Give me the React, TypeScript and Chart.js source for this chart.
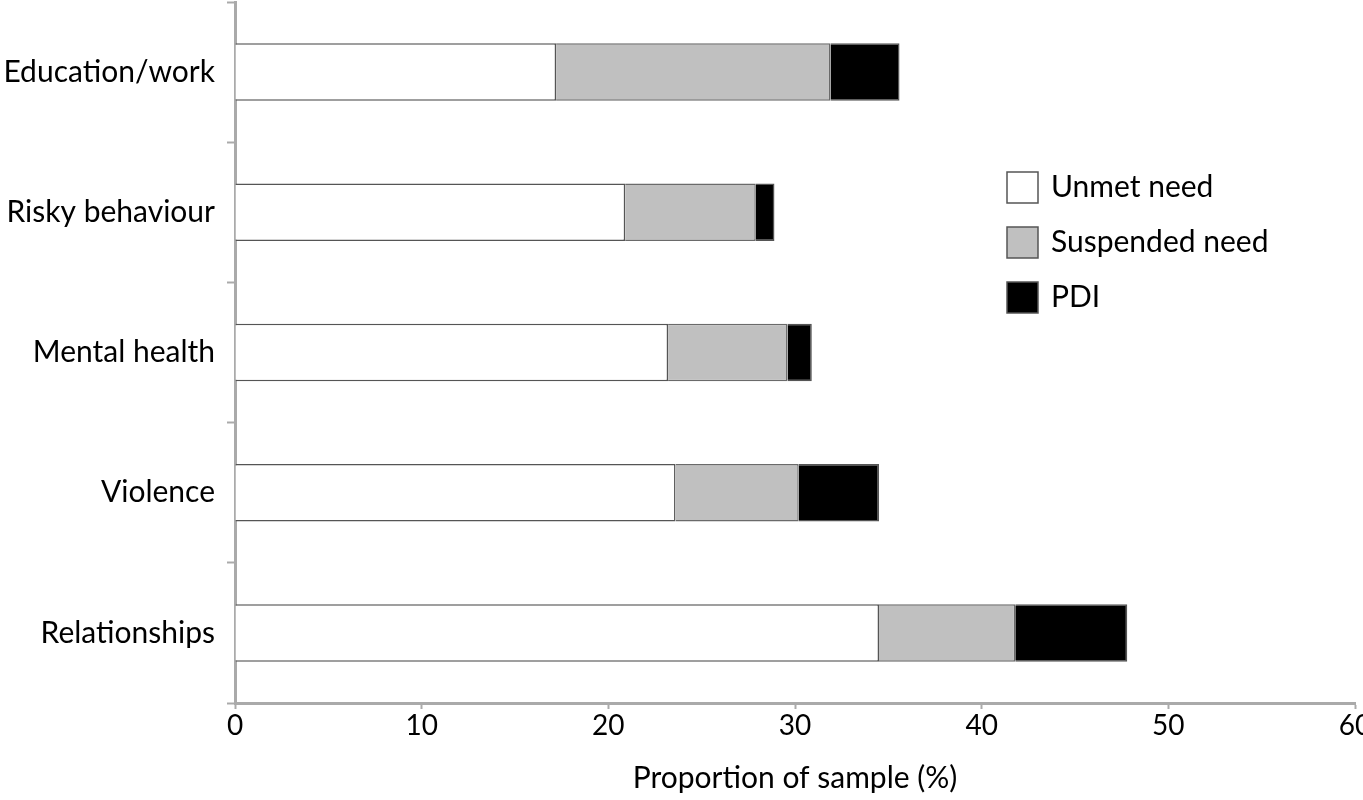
import React, { useEffect, useRef } from "react";
import { Chart, registerables } from "chart.js";

Chart.register(...registerables);

const categories = ["Education/work", "Risky behaviour", "Mental health", "Violence", "Relationships"];
const unmetNeed = [17.2, 20.9, 23.2, 23.6, 34.5];
const suspendedNeed = [14.7, 7.0, 6.4, 6.6, 7.3];
const pdi = [3.7, 1.0, 1.3, 4.3, 6.0];
const seriesLabels = ["Unmet need", "Suspended need", "PDI"];
const axisTitle = "Proportion of sample (%)";

const FONT = "Lato, 'Open Sans', sans-serif";

const legendPlugin = {
  id: "customLegend",
  afterDraw(chart: any) {
    const ctx = chart.ctx;
    const x0 = 1007;
    const y0 = 172;
    const gap = 55;
    const box = 31;
    ctx.save();
    chart.data.datasets.forEach((ds: any, i: number) => {
      const y = y0 + i * gap;
      ctx.fillStyle = ds.backgroundColor;
      ctx.fillRect(x0, y, box, box);
      ctx.strokeStyle = "#555";
      ctx.lineWidth = 1.5;
      ctx.strokeRect(x0, y, box, box);
      ctx.fillStyle = "#000";
      ctx.font = `30px ${FONT}`;
      ctx.textBaseline = "middle";
      ctx.textAlign = "left";
      ctx.fillText(ds.label, x0 + box + 13, y + box / 2);
    });
    ctx.restore();
  },
};

export default function App() {
  const ref = useRef<HTMLCanvasElement>(null);
  useEffect(() => {
    if (!ref.current) return;
    const chart = new Chart(ref.current, {
      type: "bar",
      data: {
        labels: categories,
        datasets: [
          { label: seriesLabels[0], data: unmetNeed, backgroundColor: "#ffffff", borderColor: "#555555", borderWidth: 1.5 },
          { label: seriesLabels[1], data: suspendedNeed, backgroundColor: "#c0c0c0", borderColor: "#6a6a6a", borderWidth: 1.5 },
          { label: seriesLabels[2], data: pdi, backgroundColor: "#000000", borderColor: "#555555", borderWidth: 1.5 },
        ],
      },
      options: {
        indexAxis: "y",
        animation: false,
        responsive: true,
        maintainAspectRatio: false,
        layout: { padding: { top: 2, right: 8, left: 0, bottom: 0 } },
        datasets: { bar: { categoryPercentage: 0.41, barPercentage: 1 } },
        plugins: { legend: { display: false }, tooltip: { enabled: false } },
        scales: {
          x: {
            stacked: true,
            min: 0,
            max: 60,
            ticks: { stepSize: 10, color: "#000", font: { family: FONT, size: 28 }, padding: 0 },
            grid: { drawOnChartArea: false, tickLength: 6, color: "#aaaaaa", tickWidth: 2 },
            border: { color: "#aaaaaa", width: 3 },
            title: { display: true, text: axisTitle, color: "#000", font: { family: FONT, size: 30 }, padding: { top: 14 } },
            afterFit: (s: any) => { s.height = 97; s.paddingLeft = 0; s.paddingRight = 0; },
          },
          y: {
            stacked: true,
            ticks: { color: "#000", font: { family: FONT, size: 30 }, padding: 12 },
            grid: { offset: true, drawOnChartArea: false, tickLength: 8, color: "#aaaaaa", tickWidth: 2 },
            border: { color: "#aaaaaa", width: 3 },
            afterFit: (s: any) => { s.width = 235; s.paddingTop = 0; s.paddingBottom = 0; },
          },
        },
      },
      plugins: [legendPlugin],
    });
    return () => chart.destroy();
  }, []);
  return (
    <div style={{ position: "absolute", left: 0, top: 0, width: 1363, height: 800, background: "#fff" }}>
      <canvas ref={ref} />
    </div>
  );
}
